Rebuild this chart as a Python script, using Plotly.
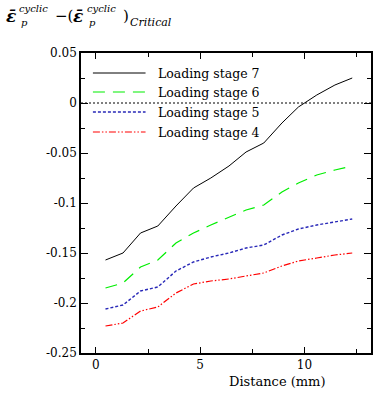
import plotly.graph_objects as go

# ---- data ----
distance = [0.46, 1.30, 2.14, 2.97, 3.84, 4.68, 5.51, 6.38, 7.20, 8.05, 8.92, 9.71, 10.59, 11.46, 12.29]
stage7 = [-0.157, -0.150, -0.130, -0.123, -0.103, -0.085, -0.075, -0.063, -0.049, -0.040, -0.020, -0.004, 0.008, 0.018, 0.025]
stage6 = [-0.185, -0.180, -0.164, -0.157, -0.140, -0.130, -0.122, -0.114, -0.107, -0.102, -0.089, -0.080, -0.072, -0.067, -0.063]
stage5 = [-0.206, -0.202, -0.188, -0.184, -0.168, -0.159, -0.154, -0.150, -0.145, -0.142, -0.132, -0.126, -0.122, -0.119, -0.116]
stage4 = [-0.223, -0.220, -0.208, -0.204, -0.190, -0.181, -0.178, -0.176, -0.173, -0.170, -0.163, -0.158, -0.155, -0.152, -0.150]

series_names = ["Loading stage 7", "Loading stage 6", "Loading stage 5", "Loading stage 4"]
series_values = [stage7, stage6, stage5, stage4]
series_colors = ["#000000", "#00ee00", "#2828b8", "#ff0000"]
series_dash = ["solid", "12px,8px", "3px,2px", "7px,2px,1.5px,2px,1.5px,2px"]
series_width = [1.0, 1.2, 1.4, 1.2]

y_tickvals = [0.05, 0, -0.05, -0.1, -0.15, -0.2, -0.25]
y_ticktext = ["0.05", "0", "-0.05", "-0.1", "-0.15", "-0.2", "-0.25"]
x_tickvals = [0, 5, 10]
x_ticktext = ["0", "5", "10"]

FONT = "DejaVu Serif"
W, H = 374, 394
ML, MR, MT, MB = 81, 1, 53, 41
PW, PH = W - ML - MR, H - MT - MB


def px(x):
    return (x - ML) / PW


def py(y):
    return (H - MB - y) / PH


fig = go.Figure()
for name, vals, col, dash, w in zip(series_names, series_values, series_colors, series_dash, series_width):
    fig.add_trace(go.Scatter(x=distance, y=vals, mode="lines", name=name,
                             line=dict(color=col, dash=dash, width=w), showlegend=False))

# zero reference line
fig.add_hline(y=0, line=dict(color="black", dash="2px,2px", width=1))

# manual legend
legend_rows = [73, 92, 112, 132]
annos = []
for name, col, dash, w, ry in zip(series_names, series_colors, series_dash, series_width, legend_rows):
    fig.add_shape(type="line", xref="paper", yref="paper", x0=px(93), x1=px(146), y0=py(ry), y1=py(ry),
                  line=dict(color=col, dash=dash, width=w))
    annos.append(dict(text=name, xref="paper", yref="paper", x=px(157), y=py(ry), xanchor="left",
                      yanchor="middle", showarrow=False, font=dict(family=FONT, size=12.5, color="black")))


def piece(text, x, y, size, anchor="left"):
    return dict(text=text, xref="paper", yref="paper", x=px(x), y=py(y), xanchor=anchor,
                yanchor="middle", showarrow=False, font=dict(family=FONT, size=size, color="black"))


annos += [
    piece("<b><i>ε̄</i></b>", 3, 16, 17),
    piece("<i>cyclic</i>", 17, 9, 10),
    piece("<i>p</i>", 19, 23, 10),
    piece("−(", 53, 16, 15),
    piece("<b><i>ε̄</i></b>", 71, 16, 17),
    piece("<i>cyclic</i>", 85, 9, 10),
    piece("<i>p</i>", 87, 23, 10),
    piece(")", 121, 16, 15),
    piece("<i>Critical</i>", 128, 23, 11),
    piece("Distance (mm)", 228, 381, 13),
]

fig.update_layout(
    width=W, height=H,
    margin=dict(l=ML, r=MR, t=MT, b=MB),
    paper_bgcolor="white", plot_bgcolor="white",
    font=dict(family=FONT, size=12, color="black"),
    annotations=annos,
    showlegend=False,
)
fig.update_xaxes(range=[-0.714, 13.19], tickvals=x_tickvals, ticktext=x_ticktext,
                 ticks="inside", ticklen=6, tickwidth=1, tickcolor="black",
                 showline=True, linecolor="black", linewidth=1.6, mirror="ticks",
                 showgrid=False, zeroline=False,
                 minor=dict(ticks="inside", dtick=2.5, tick0=0, ticklen=4, tickcolor="black", showgrid=False),
                 tickfont=dict(family=FONT, size=12))
fig.update_yaxes(range=[-0.25, 0.05], tickvals=y_tickvals, ticktext=y_ticktext,
                 ticks="inside", ticklen=7, tickwidth=1, tickcolor="black",
                 showline=True, linecolor="black", linewidth=1.6, mirror="ticks",
                 showgrid=False, zeroline=False,
                 minor=dict(ticks="inside", dtick=0.025, tick0=0, ticklen=4, tickcolor="black", showgrid=False),
                 tickfont=dict(family=FONT, size=12))

fig.write_html("out.html", config={"displayModeBar": False},
               post_script="document.body.style.margin='0';")
